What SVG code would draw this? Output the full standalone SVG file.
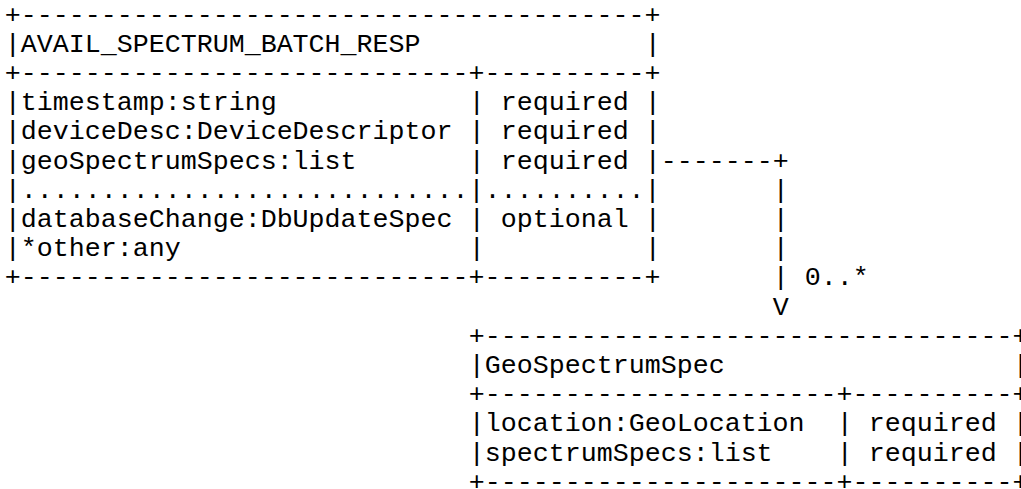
<svg xmlns="http://www.w3.org/2000/svg" width="1021" height="489" viewBox="0 0 1021 489">
  <style>
    .t { font-family: "Liberation Mono", "DejaVu Sans Mono", monospace; font-size: 26.66px; fill: #000; white-space: pre; }
  </style>
  <rect width="1021" height="489" fill="#fff"/>

  <!-- character grid: column c at x = 4.7 + 16c, row r baseline at y = 22.5 + 29.2r -->

  <g id="avail-spectrum-batch-resp" class="t">
    <text x="4.7" y="22.5">+---------------------------------------+</text>
    <text x="4.7" y="51.7">|AVAIL_SPECTRUM_BATCH_RESP</text>
    <text x="644.7" y="51.7">|</text>
    <text x="4.7" y="80.9">+----------------------------+----------+</text>
    <text x="4.7" y="110.1">|timestamp:string</text>
    <text x="468.7" y="110.1">| required |</text>
    <text x="4.7" y="139.3">|deviceDesc:DeviceDescriptor</text>
    <text x="468.7" y="139.3">| required |</text>
    <text x="4.7" y="168.5">|geoSpectrumSpecs:list</text>
    <text x="468.7" y="168.5">| required |</text>
    <text x="4.7" y="197.7">|............................|..........|</text>
    <text x="4.7" y="226.9">|databaseChange:DbUpdateSpec</text>
    <text x="468.7" y="226.9">| optional |</text>
    <text x="4.7" y="256.1">|*other:any</text>
    <text x="468.7" y="256.1">|</text>
    <text x="644.7" y="256.1">|</text>
    <text x="4.7" y="285.3">+----------------------------+----------+</text>
  </g>

  <g id="connectors" class="t">
    <text x="660.7" y="168.5">-------+</text>
    <text x="772.7" y="197.7">|</text>
    <text x="772.7" y="226.9">|</text>
    <text x="772.7" y="256.1">|</text>
    <text x="772.7" y="285.3">|</text>
    <text x="804.7" y="285.3">0..*</text>
    <text x="772.7" y="314.5">V</text>
  </g>

  <g id="geo-spectrum-spec" class="t">
    <text x="468.7" y="343.7">+---------------------------------+</text>
    <text x="468.7" y="372.9">|GeoSpectrumSpec</text>
    <text x="1012.7" y="372.9">|</text>
    <text x="468.7" y="402.1">+----------------------+----------+</text>
    <text x="468.7" y="431.3">|location:GeoLocation</text>
    <text x="836.7" y="431.3">| required |</text>
    <text x="468.7" y="460.5">|spectrumSpecs:list</text>
    <text x="836.7" y="460.5">| required |</text>
    <text x="468.7" y="489.7">+----------------------+----------+</text>
  </g>
</svg>
